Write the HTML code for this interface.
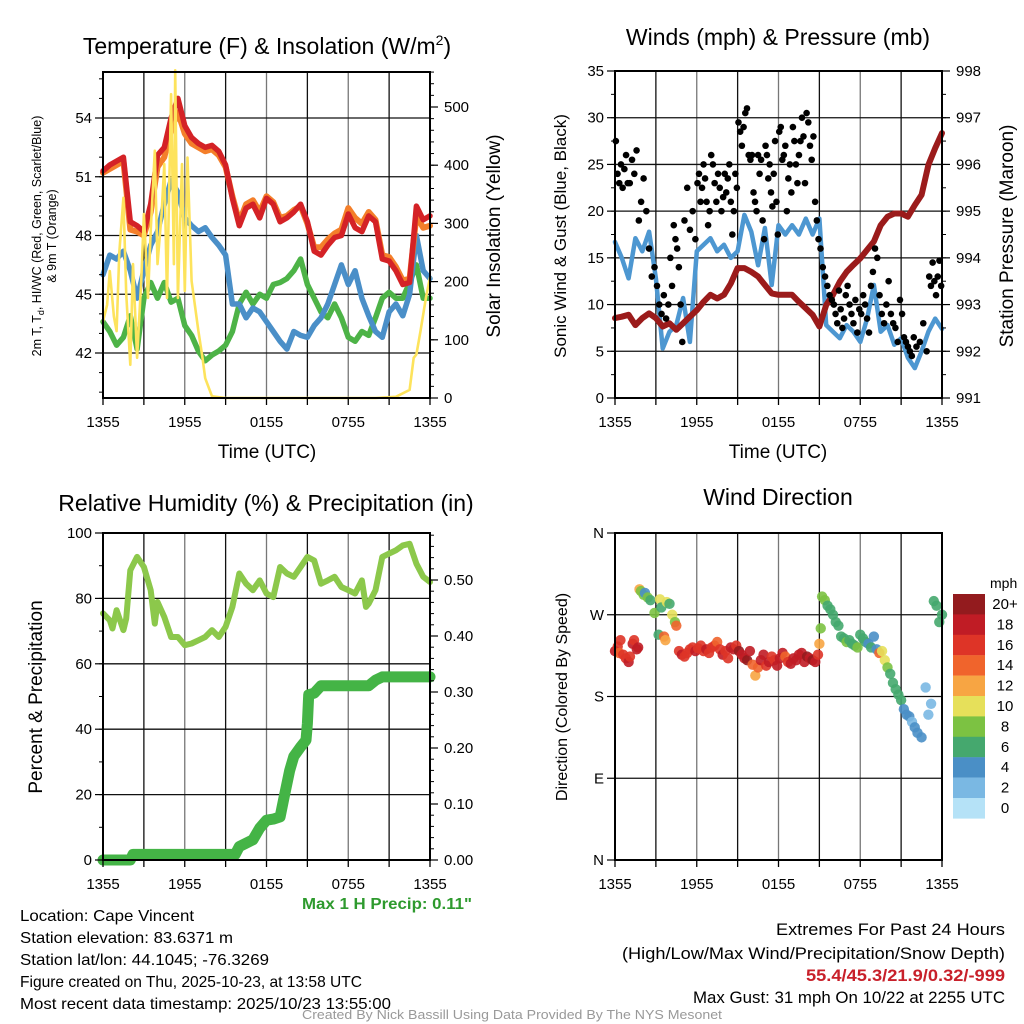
<!DOCTYPE html>
<html><head><meta charset="utf-8">
<style>
html,body{margin:0;padding:0;background:#fff;}
svg{display:block;font-family:"Liberation Sans",Arial,sans-serif;}
</style></head>
<body>
<svg id="fig" width="1024" height="1024" viewBox="0 0 1024 1024" xmlns="http://www.w3.org/2000/svg">
<rect width="1024" height="1024" fill="#fff"/>
<text x="267" y="54" font-size="23" text-anchor="middle">Temperature (F) &amp; Insolation (W/m<tspan font-size="14" dy="-9">2</tspan><tspan dy="9">)</tspan></text>
<text x="778" y="45" font-size="23" text-anchor="middle">Winds (mph) &amp; Pressure (mb)</text>
<text x="266" y="511" font-size="23" text-anchor="middle">Relative Humidity (%) &amp; Precipitation (in)</text>
<text x="778" y="505" font-size="23" text-anchor="middle">Wind Direction</text>
<text x="267" y="458" font-size="19" text-anchor="middle">Time (UTC)</text>
<text x="778" y="458" font-size="19" text-anchor="middle">Time (UTC)</text>
<text transform="translate(41,236) rotate(-90)" font-size="12.5" text-anchor="middle">2m T, T<tspan font-size="9" dy="3">d</tspan><tspan dy="-3">, HI/WC (Red, Green, Scarlet/Blue)</tspan></text>
<text transform="translate(56,236) rotate(-90)" font-size="12.5" text-anchor="middle">&amp; 9m T (Orange)</text>
<text transform="translate(500,236) rotate(-90)" font-size="19" text-anchor="middle">Solar Insolation (Yellow)</text>
<text transform="translate(566,236) rotate(-90)" font-size="17" text-anchor="middle">Sonic Wind &amp; Gust (Blue, Black)</text>
<text transform="translate(1013,236) rotate(-90)" font-size="19" text-anchor="middle">Station Pressure (Maroon)</text>
<text transform="translate(42,697) rotate(-90)" font-size="19" text-anchor="middle">Percent &amp; Precipitation</text>
<text transform="translate(567,697) rotate(-90)" font-size="16" text-anchor="middle">Direction (Colored By Speed)</text>
<text x="302" y="909" font-size="16" font-weight="bold" fill="#2e9a2e" textLength="170" lengthAdjust="spacingAndGlyphs">Max 1 H Precip: 0.11"</text>
<g font-size="16">
<text x="20" y="921" textLength="174" lengthAdjust="spacingAndGlyphs">Location: Cape Vincent</text>
<text x="20" y="943" textLength="213" lengthAdjust="spacingAndGlyphs">Station elevation: 83.6371 m</text>
<text x="20" y="965" textLength="249" lengthAdjust="spacingAndGlyphs">Station lat/lon: 44.1045; -76.3269</text>
<text x="20" y="987" textLength="342" lengthAdjust="spacingAndGlyphs">Figure created on Thu, 2025-10-23, at 13:58 UTC</text>
<text x="20" y="1009" textLength="371" lengthAdjust="spacingAndGlyphs">Most recent data timestamp: 2025/10/23 13:55:00</text>
</g>
<g font-size="17" text-anchor="end">
<text x="1005" y="935" textLength="229" lengthAdjust="spacingAndGlyphs">Extremes For Past 24 Hours</text>
<text x="1005" y="959" textLength="383" lengthAdjust="spacingAndGlyphs">(High/Low/Max Wind/Precipitation/Snow Depth)</text>
<text x="1005" y="981" fill="#c8202a" font-weight="bold" textLength="199" lengthAdjust="spacingAndGlyphs">55.4/45.3/21.9/0.32/-999</text>
<text x="1005" y="1003" textLength="312" lengthAdjust="spacingAndGlyphs">Max Gust: 31 mph On 10/22 at 2255 UTC</text>
</g>
<text x="512" y="1019" font-size="12.5" fill="#999" text-anchor="middle" textLength="420" lengthAdjust="spacingAndGlyphs">Created By Nick Bassill Using Data Provided By The NYS Mesonet</text>
<g id="layer"></g>
</svg>
<script>
// ---------- DATA ----------
const timeTickLabels = ["1355","1955","0155","0755","1355"];
const halfHours = [0,0.5,1,1.5,2,2.5,3,3.5,4,4.5,5,5.5,6,6.5,7,7.5,8,8.5,9,9.5,10,10.5,11,11.5,12,12.5,13,13.5,14,14.5,15,15.5,16,16.5,17,17.5,18,18.5,19,19.5,20,20.5,21,21.5,22,22.5,23,23.5,24];
const temp2m = [51.3,51.6,51.8,52.0,48.7,48.5,48.2,49.6,52.1,52.5,54.0,55.0,53.6,53.0,52.7,52.5,52.6,52.3,51.6,49.9,48.5,49.4,49.6,48.9,49.9,49.6,48.7,48.9,49.2,49.6,48.7,47.2,47.0,47.5,47.9,48.0,49.1,48.4,48.2,49.0,48.7,46.8,46.7,46.2,45.5,45.6,49.5,48.8,49.0];
const temp9m = [51.2,51.4,51.6,51.8,48.3,48.2,48.0,49.2,51.5,52.0,53.4,54.3,53.2,52.7,52.5,52.3,52.4,52.1,51.5,50.0,48.7,49.6,49.8,49.2,50.0,49.7,48.9,49.0,49.3,49.5,48.6,47.4,47.4,47.8,48.1,48.3,49.4,48.9,48.6,49.2,48.8,47.0,46.9,46.4,45.7,45.8,49.0,48.4,48.5];
const dewBlue = [46.0,47.0,46.8,47.2,46.2,44.8,46.2,47.5,48.2,49.6,50.8,50.2,48.9,48.5,48.2,48.4,47.9,47.5,47.0,44.5,44.5,43.8,44.3,44.1,43.6,43.1,42.6,42.2,43.1,42.9,42.8,43.4,43.8,44.5,45.5,46.5,45.5,46.2,44.8,43.9,43.1,42.8,44.1,44.5,43.9,45.0,48.0,46.2,45.8];
const dewGreen = [43.6,43.1,42.4,42.8,43.9,42.2,44.8,45.6,44.8,45.6,44.6,44.8,43.4,42.9,42.1,41.6,41.9,42.1,42.4,43.1,44.5,45.1,44.5,45.0,44.8,45.5,45.6,45.8,46.2,46.8,45.5,44.8,44.1,43.8,44.5,43.8,42.8,42.6,43.1,42.9,43.8,44.8,45.1,44.8,44.8,45.6,46.5,44.8,44.8];
const solarHours = [0,0.3,0.5,0.8,1,1.2,1.5,1.7,2,2.2,2.5,2.8,3,3.3,3.5,3.8,4,4.3,4.5,4.7,5,5.2,5.3,5.5,5.8,6,6.2,6.5,7,7.3,7.5,8,9,12,16,20,21.5,22.5,22.8,23,23.3,23.7,24];
const solarVals = [132,160,218,140,115,250,344,180,57,230,69,200,316,172,287,425,230,316,402,172,522,230,563,172,402,184,413,201,115,69,34,3,0,0,0,0,2,14,69,75,115,172,207];
const tempTicks = [42,45,48,51,54];
const solarTicks = [0,100,200,300,400,500];

const pressure = [992.71,992.74,992.78,992.56,992.71,992.81,992.71,992.53,992.60,992.46,992.60,992.74,992.88,993.06,993.21,993.13,993.21,993.45,993.78,993.78,993.70,993.60,993.42,993.24,993.21,993.21,993.21,993.06,992.92,992.78,992.53,992.99,993.21,993.49,993.70,993.85,993.99,994.17,994.35,994.70,994.88,994.95,994.95,994.88,995.13,995.35,995.99,996.35,996.67];
const windSpeed = [16.7,15.0,12.8,17.1,15.7,17.8,12.8,5.3,7.1,7.8,10.7,6.0,15.7,16.4,17.1,15.7,16.4,15.0,15.7,19.6,17.8,14.2,18.2,12.1,18.5,17.5,18.5,17.5,19.2,17.5,19.2,7.8,7.1,6.4,7.8,7.1,6.0,8.5,12.1,7.1,7.8,5.7,6.4,4.3,3.2,5.0,7.1,8.5,7.4];
const gustByHour = [
 [27.5,24,23,25,22.5,24.5,26,23],[23,25.5,24,26.5,19,21],[23.5,20,16,13,14],[12,10,9,11,8.5,10],
 [15,12,18.5,17,16,14,10,6],[19,22.5,18,20,17],[23,24,21,22.5,25,23.5,21,18.5,20],[26,25,23,21,24,22.5,20,21.5],
 [24,22,23.5,25,21,17.5,20,24,22.5],[29.5,28.5,27,29,30.5,31,26,25.5],[26,22,21,20,26,24,25.5,19,17],[27,26,23.5,25,22,20.5,24,27.5,21,17.5],
 [28.5,29,25.5,26,27,20,23.5,25,22],[29,27.5,25,23,26,27.5,30,28,23],[30.5,29.5,27,25.5,28,21,19,17],[16,14,13,12,11,10.5],
 [10,9,8,11.5,9.5,7.5,8.5,11],[12,10,9,8,10.5,7,9.5],[9,11,10,8.5,7,12,13.5],[16,15,11,9,8,10],
 [12.5,9,8,7.5,6,10.5],[9,6.5,6,5.5,5,4.5,6.5],[5.5,6,8,5],[13,12,14.5,12.5,11,13,14.7,12]];
const windTicks = [0,5,10,15,20,25,30,35];
const pressTicks = [991,992,993,994,995,996,997,998];

const rhHours = [0,0.5,0.7,1,1.5,1.7,2,2.5,3,3.5,3.8,4,4.5,5,5.5,6,6.5,7,7.5,8,8.5,9,9.5,10,10.5,11,11.5,12,12.5,13,13.5,14,14.5,15,15.5,16,16.5,17,17.5,18,18.5,19,19.3,19.5,20,20.5,21,21.5,22,22.5,23,23.5,24];
const rhVals = [75.4,73.3,70.8,76.4,70.3,73.8,88.6,92.7,89.6,82.5,72.3,78.9,74.3,68.2,68.2,65.7,66.2,67.2,68.2,70.3,68.2,71.3,77.4,87.6,84.5,82.5,85.5,81.5,80.4,89.6,87.6,86.6,89.6,92.7,91.6,84.5,85.5,86.6,83.5,82.5,81.5,85.5,77.4,78.4,82.5,92.7,93.7,94.7,96.2,96.7,90.6,86.6,85.0];
const precipHours = [0,2,2.2,9.7,10,10.5,11,11.5,12,12.5,13,13.3,13.7,14,14.5,14.9,15,15.1,15.5,16,19.5,20,20.5,24];
const precipVals = [0,0,0.01,0.01,0.024,0.03,0.036,0.057,0.071,0.073,0.077,0.113,0.16,0.185,0.202,0.214,0.244,0.295,0.298,0.311,0.311,0.321,0.327,0.327];
const rhTicks = [0,20,40,60,80,100];
const precipTicks = [0,0.1,0.2,0.3,0.4,0.5];

const dirHours = [0,0.2,0.3,0.4,0.6,0.8,1.0,1.1,1.3,1.4,1.6,1.7,1.8,1.9,2.1,2.2,2.4,2.6,2.9,3.2,3.3,3.4,3.6,3.7,3.8,4.0,4.2,4.4,4.5,4.7,4.9,5.1,5.3,5.5,5.7,5.9,6.1,6.3,6.5,6.7,6.9,7.1,7.3,7.5,7.7,7.9,8.1,8.3,8.5,8.7,8.9,9.1,9.3,9.5,9.7,9.9,10.1,10.3,10.5,10.7,10.9,11.1,11.3,11.5,11.7,11.9,12.1,12.3,12.5,12.7,12.9,13.1,13.3,13.5,13.7,13.9,14.1,14.3,14.5,14.7,14.9,15.0,15.1,15.2,15.4,15.6,15.8,16.0,16.2,16.4,16.6,16.8,17.0,17.2,17.4,17.6,17.8,18.0,18.2,18.4,18.6,18.8,19.0,19.2,19.4,19.6,19.8,20.0,20.2,20.4,20.6,20.8,21.0,21.2,21.4,21.6,21.8,22.0,22.2,22.5,22.8,23.0,23.2,23.4,23.6,23.8,24.0];
const dirDeg = [230,235,228,242,226,222,218,224,238,242,232,234,298,296,292,294,289,286,272,248,287,278,246,242,284,282,270,262,258,230,226,224,228,232,234,230,233,236,230,232,228,234,236,240,232,226,230,222,234,232,236,230,226,222,220,230,215,203,212,220,226,214,218,224,220,214,222,228,224,218,216,222,220,226,228,218,224,222,220,218,226,238,255,290,286,280,276,270,262,258,246,244,240,242,238,236,234,248,244,240,238,234,246,232,228,230,220,212,205,195,188,182,176,166,160,158,152,146,140,135,190,160,172,285,280,262,270,258,252,255];
const dirSpeed = [18,16,14,16,16,16,18,16,18,16,18,18,12,8,8,4,8,6,8,6,10,6,14,12,10,6,10,8,14,16,18,16,16,16,16,18,16,16,16,18,16,16,16,14,16,18,16,16,18,18,16,20,18,18,20,18,14,12,14,18,18,16,18,16,16,18,18,18,14,16,18,18,18,18,18,18,20,18,20,18,16,12,8,8,8,6,6,6,6,6,6,6,8,6,6,6,8,6,6,6,4,6,4,4,14,10,10,8,6,6,6,6,6,4,4,4,2,4,4,4,2,2,2,6,6,6,6,6,8,8];
const speedBinLabels = ["20+","18","16","14","12","10","8","6","4","2","0"];
const speedColors = ["#931b1e","#c01c25","#de3427","#f0642c","#f7a543","#e6e05a","#7cc242","#45a86e","#4a8fc6","#7ab8e3","#b5e2f7"];
const dirTickLabels = ["N","E","S","W","N"];

// ---------- HELPERS ----------
const NS = "http://www.w3.org/2000/svg";
const layer = document.getElementById('layer');
function mk(tag, attrs, parent){const e=document.createElementNS(NS,tag);for(const k in attrs)e.setAttribute(k,attrs[k]);(parent||layer).appendChild(e);return e;}
function lin(d0,d1,r0,r1){return v=>r0+(v-d0)*(r1-r0)/(d1-d0);}

function panel(name,X0,Y0,X1,Y1){
  const g=mk('g',{});
  
  
  const plot=mk('g',{},g);
  return {g,plot,X0,Y0,X1,Y1,x:lin(0,24,X0,X1)};
}
function frame(p){
  const r=mk('rect',{x:p.X0,y:p.Y0,width:p.X1-p.X0,height:p.Y1-p.Y0,fill:'none',stroke:'#000','stroke-width':2},p.g);
  
  
}
function vgrid(p){
  for(let h=3;h<24;h+=3){
    const l=mk('line',{x1:p.x(h),x2:p.x(h),y1:p.Y0,y2:p.Y1,stroke:(h%6===0)?'#777':'#111','stroke-width':1.3},p.plot);
    
    
  }
  for(let h=0;h<=24;h+=3){
    mk('line',{x1:p.x(h),x2:p.x(h),y1:p.Y1,y2:p.Y1+7,stroke:'#000','stroke-width':1.3},p.g);
  }
  timeTickLabels.forEach((t,i)=>{
    const tx=mk('text',{x:p.x(i*6),y:p.Y1+29,'font-size':15,'text-anchor':'middle'},p.g);
    
    
    tx.textContent=t;
  });
}
function hgrid(p,ys,ticks,fmt,side,minorStep,dmin,dmax,drawGrid){
  ticks.forEach(v=>{
    const y=ys(v);
    if(drawGrid && y>p.Y0+2 && y<p.Y1-2){
      const l=mk('line',{x1:p.X0,x2:p.X1,y1:y,y2:y,stroke:'#111','stroke-width':1.3},p.plot);
      
      
    }
    const X=side==='L'?p.X0:p.X1;
    mk('line',{x1:X,x2:side==='L'?X-8:X+8,y1:y,y2:y,stroke:'#000','stroke-width':1.2},p.g);
    const t=mk('text',{x:side==='L'?X-11:X+14,y:y+5,'font-size':15,'text-anchor':side==='L'?'end':'start'},p.g);
    
    
    t.textContent=fmt(v);
  });
  if(minorStep){
    for(let v=dmin;v<=dmax+1e-9;v+=minorStep){
      const y=ys(v); if(y<p.Y0-0.5||y>p.Y1+0.5)continue;
      const X=side==='L'?p.X0:p.X1;
      mk('line',{x1:X,x2:side==='L'?X-4:X+4,y1:y,y2:y,stroke:'#000','stroke-width':1},p.g);
    }
  }
}
function pathOf(xs,ys,xf,yf){return xs.map((h,i)=>(i?'L':'M')+xf(h).toFixed(1)+','+yf(ys[i]).toFixed(1)).join(' ');}
function line(p,name,xs,vals,yf,color,w){
  const e=mk('path',{d:pathOf(xs,vals,p.x,yf),fill:'none',stroke:color,'stroke-width':w,'stroke-linejoin':'round','stroke-linecap':'round'},p.plot);
  
  
}

// ---------- PANEL 1 ----------
(function(){
  const p=panel('temperature-panel',103,72,430,398);
  const yT=lin(42,54,353,118), yS=lin(0,500,398,107);
  vgrid(p);
  hgrid(p,yT,tempTicks,v=>String(v),'L',1,40,56,true);
  hgrid(p,yS,solarTicks,v=>String(v),'R',20,0,560,false);
  line(p,'dewpoint-green-line',halfHours,dewGreen,yT,'#4db347',5.5);
  line(p,'hiwc-blue-line',halfHours,dewBlue,yT,'#4a8fc8',5.5);
  line(p,'temp-9m-orange-line',halfHours,temp9m,yT,'#f47f2a',6);
  line(p,'temp-2m-red-line',halfHours,temp2m,yT,'#d42226',5.5);
  line(p,'solar-insolation-line',solarHours,solarVals,yS,'#fde35c',2.6);
  frame(p);
})();

// ---------- PANEL 2 ----------
(function(){
  const p=panel('wind-pressure-panel',615,71,942,398);
  const yW=lin(0,35,398,71), yP=lin(991,998,398,71);
  vgrid(p);
  hgrid(p,yW,windTicks,v=>String(v),'L',2.5,0,35,true);
  hgrid(p,yP,pressTicks,v=>String(v),'R',0.5,991,998,false);
  line(p,'sonic-wind-line',halfHours,windSpeed,yW,'#4d97d1',4.5);
  line(p,'pressure-line',halfHours,pressure,yP,'#9b1b1b',6);
  gustByHour.forEach((arr,h)=>{
    arr.forEach((g,i)=>{
      const c=mk('circle',{cx:p.x(h+(i+0.5)/arr.length),cy:yW(g),r:3.3,fill:'#000'},p.plot);
      
      
    });
  });
  frame(p);
})();

// ---------- PANEL 3 ----------
(function(){
  const p=panel('humidity-precip-panel',103,533,430,860);
  const yR=lin(0,100,860,533), yP=lin(0,0.5,860,580);
  vgrid(p);
  hgrid(p,yR,rhTicks,v=>String(v),'L',10,0,100,true);
  hgrid(p,yP,precipTicks,v=>v.toFixed(2),'R',0.02,0,0.58,false);
  line(p,'relative-humidity-line',rhHours,rhVals,yR,'#8cc84b',6);
  line(p,'precip-accum-line',precipHours,precipVals,yP,'#44b446',11);
  frame(p);
})();

// ---------- PANEL 4 ----------
(function(){
  const p=panel('wind-direction-panel',615,533,942,860);
  const yD=lin(0,360,860,533);
  vgrid(p);
  hgrid(p,yD,[0,90,180,270,360],v=>dirTickLabels[v/90],'L',0,0,0,true);
  dirHours.forEach((h,i)=>{
    const s=dirSpeed[i];
    const bin=Math.max(0,Math.min(10,10-Math.floor(s/2)));
    const c=mk('circle',{cx:p.x(h),cy:yD(dirDeg[i]),r:5.2,fill:speedColors[bin],'fill-opacity':0.9},p.plot);
    
    
  });
  frame(p);
  const cb=mk('g',{});
  
  
  const t=mk('text',{x:990,y:588,'font-size':14},cb); t.textContent='mph';
  
  
  speedColors.forEach((col,i)=>{
    const r=mk('rect',{x:953,y:594+i*20.4,width:32,height:20.6,fill:col},cb);
    
    
    const l=mk('text',{x:1005,y:609+i*20.4,'font-size':15,'text-anchor':'middle'},cb);
    
    
    l.textContent=speedBinLabels[i];
  });
})();
</script>
</body></html>
